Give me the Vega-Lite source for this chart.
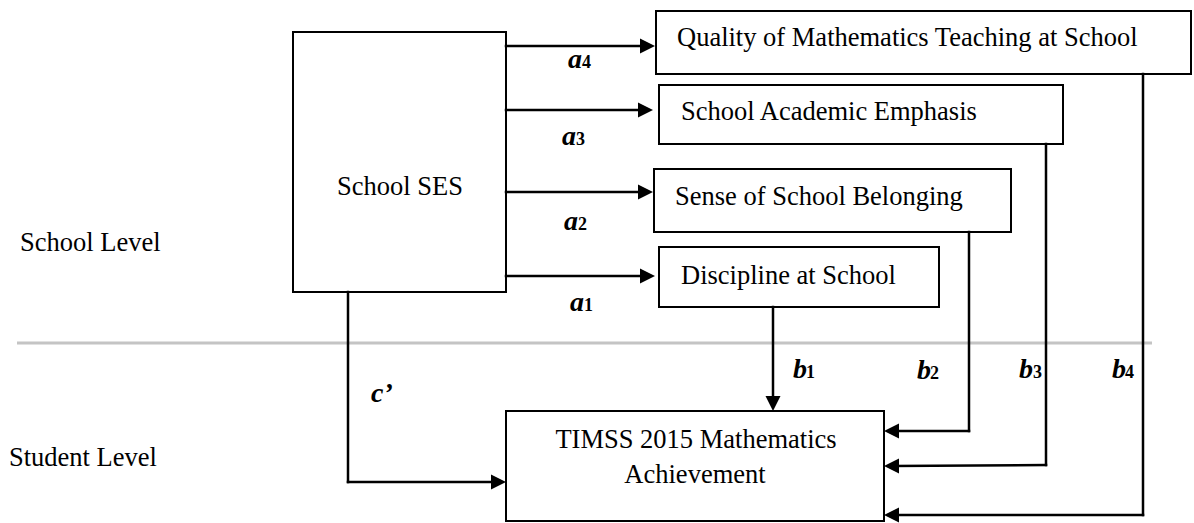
{
  "$schema": "https://vega.github.io/schema/vega-lite/v6.json",
  "width": 1194,
  "height": 523,
  "autosize": {"type": "fit", "contains": "padding"},
  "padding": 0,
  "background": "white",
  "config": {"view": {"stroke": null}},
  "datasets": {
    "boxes": [
      {"box": "School SES", "x1": 293, "x2": 506, "y1": 32, "y2": 292},
      {"box": "Quality", "x1": 656, "x2": 1191, "y1": 11, "y2": 74},
      {"box": "Academic", "x1": 659, "x2": 1063, "y1": 85, "y2": 144},
      {"box": "Belonging", "x1": 654, "x2": 1011, "y1": 169, "y2": 232},
      {"box": "Discipline", "x1": 659, "x2": 939, "y1": 247, "y2": 307},
      {"box": "TIMSS", "x1": 506, "x2": 884, "y1": 411, "y2": 521}
    ],
    "divider": [{"x1": 17, "x2": 1152, "y1": 343, "y2": 343}],
    "segs": [
      {"path": "a4", "x1": 506, "x2": 648, "y1": 46, "y2": 46},
      {"path": "a3", "x1": 506, "x2": 646, "y1": 110, "y2": 110},
      {"path": "a2", "x1": 506, "x2": 646, "y1": 192, "y2": 192},
      {"path": "a1", "x1": 506, "x2": 648, "y1": 276, "y2": 276},
      {"path": "c", "x1": 348, "x2": 348, "y1": 292, "y2": 482},
      {"path": "c", "x1": 348, "x2": 499, "y1": 482, "y2": 482},
      {"path": "b1", "x1": 773, "x2": 773, "y1": 307, "y2": 404},
      {"path": "b2", "x1": 969, "x2": 969, "y1": 232, "y2": 431},
      {"path": "b2", "x1": 892, "x2": 969, "y1": 431, "y2": 431},
      {"path": "b3", "x1": 1046, "x2": 1046, "y1": 144, "y2": 465},
      {"path": "b3", "x1": 892, "x2": 1046, "y1": 466, "y2": 465},
      {"path": "b4", "x1": 1143, "x2": 1143, "y1": 74, "y2": 515},
      {"path": "b4", "x1": 892, "x2": 1143, "y1": 515, "y2": 515}
    ],
    "heads": [
      {"path": "a4", "dir": "right", "x": 647.5, "y": 46},
      {"path": "a3", "dir": "right", "x": 645.5, "y": 110},
      {"path": "a2", "dir": "right", "x": 645.5, "y": 192},
      {"path": "a1", "dir": "right", "x": 647.5, "y": 276},
      {"path": "c", "dir": "right", "x": 498.5, "y": 482},
      {"path": "b1", "dir": "down", "x": 773, "y": 403.5},
      {"path": "b2", "dir": "left", "x": 891.5, "y": 431},
      {"path": "b3", "dir": "left", "x": 891.5, "y": 466},
      {"path": "b4", "dir": "left", "x": 891.5, "y": 515}
    ],
    "textsLeft": [
      {"label": "Quality of Mathematics Teaching at School", "x": 677, "y": 46},
      {"label": "School Academic Emphasis", "x": 681, "y": 120},
      {"label": "Sense of School Belonging", "x": 675, "y": 205},
      {"label": "Discipline at School", "x": 681, "y": 284},
      {"label": "School Level", "x": 20, "y": 251},
      {"label": "Student Level", "x": 9, "y": 466}
    ],
    "textsCenter": [
      {"label": "School SES", "x": 400, "y": 195},
      {"label": "TIMSS 2015 Mathematics", "x": 696, "y": 448},
      {"label": "Achievement", "x": 695, "y": 483}
    ],
    "letters": [
      {"label": "a", "x": 568, "y": 68},
      {"label": "a", "x": 562, "y": 145},
      {"label": "a", "x": 564, "y": 230},
      {"label": "a", "x": 570, "y": 311},
      {"label": "b", "x": 793, "y": 378},
      {"label": "b", "x": 917, "y": 379},
      {"label": "b", "x": 1019, "y": 378},
      {"label": "b", "x": 1112, "y": 378},
      {"label": "c’", "x": 371, "y": 402}
    ],
    "subs": [
      {"label": "4", "x": 582, "y": 68},
      {"label": "3", "x": 576, "y": 145},
      {"label": "2", "x": 578, "y": 230},
      {"label": "1", "x": 584, "y": 311},
      {"label": "1", "x": 806, "y": 378},
      {"label": "2", "x": 930, "y": 379},
      {"label": "3", "x": 1033, "y": 378},
      {"label": "4", "x": 1125, "y": 378}
    ]
  },
  "layer": [
    {
      "data": {"name": "boxes"},
      "mark": {"type": "rect", "fill": "white", "stroke": "black", "strokeWidth": 2},
      "encoding": {
        "x": {"field": "x1", "type": "quantitative", "scale": {"domain": [0, 1194], "nice": false, "zero": false}, "axis": null},
        "x2": {"field": "x2"},
        "y": {"field": "y1", "type": "quantitative", "scale": {"domain": [0, 523], "nice": false, "zero": false, "reverse": true}, "axis": null},
        "y2": {"field": "y2"}
      }
    },
    {
      "data": {"name": "divider"},
      "mark": {"type": "rule", "color": "#c4c4c4", "strokeWidth": 3},
      "encoding": {
        "x": {"field": "x1", "type": "quantitative"},
        "x2": {"field": "x2"},
        "y": {"field": "y1", "type": "quantitative"},
        "y2": {"field": "y2"}
      }
    },
    {
      "data": {"name": "segs"},
      "mark": {"type": "rule", "color": "black", "strokeWidth": 2.5, "strokeCap": "square"},
      "encoding": {
        "x": {"field": "x1", "type": "quantitative"},
        "x2": {"field": "x2"},
        "y": {"field": "y1", "type": "quantitative"},
        "y2": {"field": "y2"}
      }
    },
    {
      "data": {"name": "heads"},
      "mark": {"type": "point", "filled": true, "color": "black", "opacity": 1, "size": 225, "strokeWidth": 0},
      "encoding": {
        "x": {"field": "x", "type": "quantitative"},
        "y": {"field": "y", "type": "quantitative"},
        "shape": {"field": "dir", "type": "nominal", "legend": null,
          "scale": {"domain": ["right", "left", "down"], "range": ["M-1,-1L1,0L-1,1Z", "M1,-1L-1,0L1,1Z", "M-1,-1L1,-1L0,1Z"]}}
      }
    },
    {
      "data": {"name": "textsLeft"},
      "mark": {"type": "text", "font": "Liberation Serif", "fontSize": 26.5, "align": "left", "baseline": "alphabetic", "color": "black"},
      "encoding": {
        "x": {"field": "x", "type": "quantitative"},
        "y": {"field": "y", "type": "quantitative"},
        "text": {"field": "label"}
      }
    },
    {
      "data": {"name": "textsCenter"},
      "mark": {"type": "text", "font": "Liberation Serif", "fontSize": 26.5, "align": "center", "baseline": "alphabetic", "color": "black"},
      "encoding": {
        "x": {"field": "x", "type": "quantitative"},
        "y": {"field": "y", "type": "quantitative"},
        "text": {"field": "label"}
      }
    },
    {
      "data": {"name": "letters"},
      "mark": {"type": "text", "font": "Liberation Serif", "fontSize": 28, "fontStyle": "italic", "fontWeight": "bold", "align": "left", "baseline": "alphabetic", "color": "black"},
      "encoding": {
        "x": {"field": "x", "type": "quantitative"},
        "y": {"field": "y", "type": "quantitative"},
        "text": {"field": "label"}
      }
    },
    {
      "data": {"name": "subs"},
      "mark": {"type": "text", "font": "Liberation Serif", "fontSize": 18, "fontWeight": "bold", "align": "left", "baseline": "alphabetic", "color": "black"},
      "encoding": {
        "x": {"field": "x", "type": "quantitative"},
        "y": {"field": "y", "type": "quantitative"},
        "text": {"field": "label"}
      }
    }
  ]
}
